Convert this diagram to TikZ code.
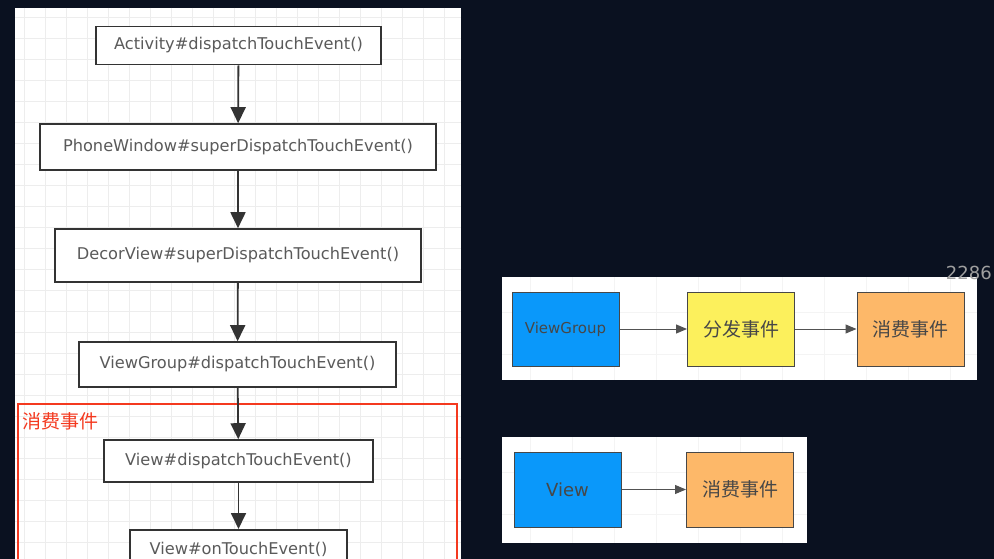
\documentclass[tikz,border=0pt]{standalone}
\usepackage{fontspec}
\newfontfamily\cjk{Noto Sans CJK SC}
\newfontfamily\lat{DejaVu Sans}
\usetikzlibrary{arrows.meta}
\definecolor{bgnavy}{HTML}{0A1120}
\definecolor{gridc}{HTML}{EDEDED}
\definecolor{boxline}{HTML}{333333}
\definecolor{txtgrey}{HTML}{5A5A5A}
\definecolor{redc}{HTML}{F4391F}
\definecolor{bluec}{HTML}{0A98FA}
\definecolor{yellowc}{HTML}{FCF05C}
\definecolor{orangec}{HTML}{FDB869}
\tikzset{
  flowbox/.style={draw=boxline, line width=1.6pt, fill=white, inner sep=0pt,
    font=\lat\fontsize{16.2}{18}\selectfont, text=txtgrey},
  flowarrow/.style={draw=boxline, line width=1.8pt, -{Triangle[length=16pt,width=15pt]}},
  colbox/.style={draw=boxline!90, line width=1pt, inner sep=0pt,
    minimum width=107pt, minimum height=74pt, text=boxline!90},
  cjklabel/.style={font=\cjk\fontsize{19}{21}\selectfont},
  colarrow/.style={draw=boxline!85, line width=1pt, -{Triangle[length=11pt,width=9pt]}},
  gridline/.style={draw=gridc, line width=0.6pt},
}
\begin{document}
\begin{tikzpicture}[x=1pt,y=-1pt]
\useasboundingbox (0,0) rectangle (994,559);
\clip (0,0) rectangle (994,559);
\fill[bgnavy] (0,0) rectangle (994,559);
% left panel
\fill[white] (15,8) rectangle (461,570);
\foreach \gx in {24,45,...,455} {\draw[gridline] (\gx,8) -- (\gx,559);}
\foreach \gy in {17,38,...,559} {\draw[gridline] (15,\gy) -- (461,\gy);}
% boxes
\node[flowbox, minimum width=285pt, minimum height=38pt] (act) at (238.5,45.5) {Activity\#dispatchTouchEvent()};
\node[flowbox, minimum width=396pt, minimum height=46pt] (pw) at (238,147) {PhoneWindow\#superDispatchTouchEvent()};
\node[flowbox, minimum width=366pt, minimum height=53pt] (dv) at (238,255.5) {DecorView\#superDispatchTouchEvent()};
\node[flowbox, minimum width=317pt, minimum height=45pt] (vg) at (237.5,364.5) {ViewGroup\#dispatchTouchEvent()};
% red region
\draw[redc, line width=1.6pt] (18,404) rectangle (457,575);
\node[anchor=west, text=redc, cjklabel, inner sep=0pt] (lbl) at (22,421) {消费事件};
\node[flowbox, minimum width=269pt, minimum height=42pt] (vd) at (238.5,461) {View\#dispatchTouchEvent()};
\node[flowbox, minimum width=217pt, minimum height=46pt, anchor=north] (vt) at (238.5,529) {};
\node[font=\lat\fontsize{16.2}{18}\selectfont, text=txtgrey, inner sep=0pt] (vtt) at (238.5,549) {View\#onTouchEvent()};
\draw[flowarrow] (act) -- (pw);
\draw[flowarrow] (pw) -- (dv);
\draw[flowarrow] (dv) -- (vg);
\draw[flowarrow] (vg) -- (vd);
\draw[flowarrow] (vd) -- (vt);
% right panel 1
\fill[white] (502,277) rectangle (977,380);
\foreach \gx in {530,572,...,970} {\draw[gridline, draw=gridc!60] (\gx,277) -- (\gx,380);}
\foreach \gy in {312,354} {\draw[gridline, draw=gridc!60] (502,\gy) -- (977,\gy);}
\node[colbox, fill=bluec, font=\lat\fontsize{15}{17}\selectfont] (rvg) at (565.5,329) {ViewGroup};
\node[colbox, fill=yellowc, cjklabel] (rdis) at (741,329) {分发事件};
\node[colbox, fill=orangec, cjklabel] (rcon) at (910.5,329) {消费事件};
\draw[colarrow] (rvg) -- (rdis);
\draw[colarrow] (rdis) -- (rcon);
% right panel 2
\fill[white] (502,437) rectangle (807,543);
\foreach \gx in {530,572,...,800} {\draw[gridline, draw=gridc!60] (\gx,437) -- (\gx,543);}
\foreach \gy in {472,514} {\draw[gridline, draw=gridc!60] (502,\gy) -- (807,\gy);}
\node[colbox, fill=bluec, font=\lat\fontsize{18}{20}\selectfont, minimum height=75pt] (rv) at (567.5,489.5) {View};
\node[colbox, fill=orangec, cjklabel, minimum height=75pt] (rvc) at (740,489.5) {消费事件};
\draw[colarrow] (rv) -- (rvc);
% watermark
\node[anchor=east, text=gray!75, font=\lat\fontsize{18}{20}\selectfont, inner sep=0pt] (wm) at (992,273) {2286};
\end{tikzpicture}
\end{document}
